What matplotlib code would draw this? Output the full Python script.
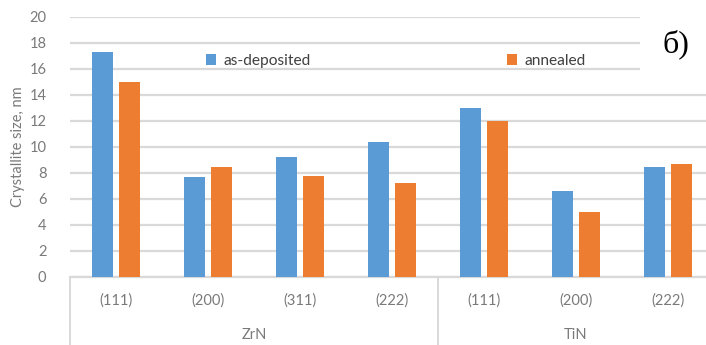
import matplotlib
matplotlib.use("Agg")
import matplotlib.pyplot as plt
import numpy as np
from matplotlib.transforms import blended_transform_factory

# Crystallite size by reflection for ZrN and TiN coatings
groups = ["ZrN", "TiN"]
group_sizes = [4, 3]
planes = ["(111)", "(200)", "(311)", "(222)", "(111)", "(200)", "(222)"]
as_deposited = [17.3, 7.7, 9.2, 10.4, 13.0, 6.6, 8.5]
annealed = [15.0, 8.5, 7.8, 7.2, 12.0, 5.0, 8.7]
series_names = ["as-deposited", "annealed"]
y_ticks = list(range(0, 21, 2))

plt.rcParams["font.family"] = ["Lato", "DejaVu Sans"]

W, H = 706, 345
fig = plt.figure(figsize=(W / 100, H / 100), dpi=100)
fig.patch.set_facecolor("white")

left, right, top, bottom = 70, 714, 17, 277
ax = fig.add_axes([left / W, 1 - bottom / H, (right - left) / W, (bottom - top) / H])

blue = "#5B9BD5"
orange = "#ED7D31"
tick_grey = "#7a7a7a"
grid_grey = "#d9d9d9"
fs = 10.5

x = np.arange(len(planes))
bw = 0.225
off = 0.145
ax.bar(x - off, as_deposited, width=bw, color=blue, label=series_names[0], zorder=3)
ax.bar(x + off, annealed, width=bw, color=orange, label=series_names[1], zorder=3)

ax.set_xlim(-0.5, len(planes) - 0.5)
ax.set_ylim(0, 20)
ax.set_yticks(y_ticks)
ax.yaxis.grid(True, color=grid_grey, linewidth=1.6, zorder=0)
ax.set_axisbelow(True)
for s in ["top", "right", "left"]:
    ax.spines[s].set_visible(False)
ax.spines["bottom"].set_color(grid_grey)
ax.spines["bottom"].set_linewidth(1.6)

ax.tick_params(axis="y", length=0, pad=17, labelsize=fs, labelcolor=tick_grey)
ax.set_xticks(x)
ax.set_xticklabels(planes)
ax.tick_params(axis="x", length=0, pad=12, labelsize=fs, labelcolor=tick_grey)

ax.set_ylabel("Crystallite size, nm", fontsize=fs, color=tick_grey, labelpad=3)

# Group labels and separators beneath the category labels
trans = blended_transform_factory(ax.transData, ax.transAxes)
depth = (H - bottom) / (bottom - top)
start = -0.5
for name, n in zip(groups, group_sizes):
    ax.plot([start, start], [0, -depth], transform=trans, color=grid_grey,
            linewidth=1.4, clip_on=False)
    ax.text(start + n / 2, -(335 - bottom) / (bottom - top), name, transform=trans,
            ha="center", va="center", fontsize=fs, color=tick_grey)
    start += n
ax.plot([start, start], [0, -depth], transform=trans, color=grid_grey,
        linewidth=1.4, clip_on=False)

leg = ax.legend(ncol=2, frameon=False, loc="upper left",
                bbox_to_anchor=(198 / W, 1 - 46 / H), bbox_transform=fig.transFigure,
                handlelength=0.65, handleheight=0.65, handletextpad=0.5,
                columnspacing=12.6, borderpad=0, fontsize=11.2)
for t in leg.get_texts():
    t.set_color("#404040")

# Panel label on a white patch
fig.patches.append(plt.Rectangle((640 / W, 1 - 75 / H), 66 / W, 75 / H,
                                 transform=fig.transFigure, facecolor="white",
                                 edgecolor="none", zorder=5))
fig.text(676 / W, 1 - 44 / H, "б)", fontsize=23, family=["Liberation Serif"],
         ha="center", va="center", color="black", zorder=6)

fig.savefig("out.png", dpi=100, facecolor="white")
